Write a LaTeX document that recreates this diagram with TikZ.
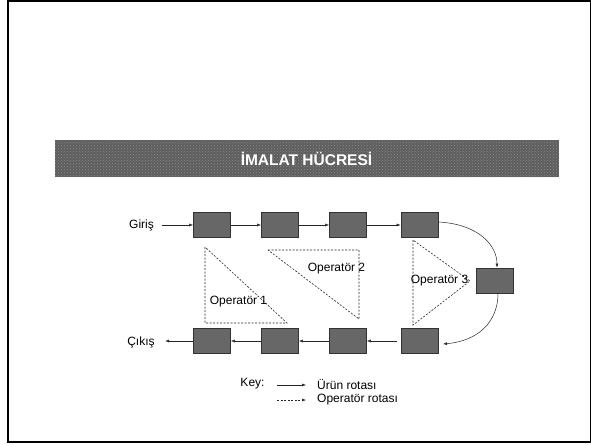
\documentclass[tikz,border=0pt]{standalone}
\usepackage{fontspec}
\setmainfont{Liberation Sans}
\usetikzlibrary{arrows.meta,patterns}
\definecolor{boxfill}{HTML}{676767}
\definecolor{boxline}{HTML}{333333}
\definecolor{barfill}{HTML}{5E5E5E}
\definecolor{bardots}{HTML}{8C8C8C}
\tikzset{
  station/.style={draw=boxline,fill=boxfill,line width=0.8pt,minimum width=37pt,minimum height=25pt,inner sep=0pt},
  lbl/.style={font=\fontsize{12}{14}\selectfont,inner sep=0pt},
  flow/.style={line width=0.5pt,draw=black!85,-{Latex[length=4pt,width=3pt]}},
  oproute/.style={line width=0.6pt,draw=black!85,dash pattern=on 2pt off 1.5pt},
}
\begin{document}
\begin{tikzpicture}[x=1pt,y=-1pt]
\useasboundingbox (0,0) rectangle (591,444);
% frame
\draw[line width=2pt] (8,1) rectangle (591,441.5);
% title bar
\fill[barfill] (55,140) rectangle (559,177);
\fill[pattern=crosshatch dots,pattern color=bardots] (55,140) rectangle (559,177);
\node[font=\fontsize{15.5}{18}\selectfont\bfseries,text=white,inner sep=0pt] (title) at (306.5,159) {İMALAT HÜCRESİ};
% stations
\node[station] (t1) at (212,225) {};
\node[station] (t2) at (280,225) {};
\node[station] (t3) at (348,225) {};
\node[station] (t4) at (419.5,225) {};
\node[station] (r) at (494.5,280.5) {};
\node[station] (b1) at (212,341) {};
\node[station] (b2) at (280,341) {};
\node[station] (b3) at (348,341) {};
\node[station] (b4) at (419.5,341) {};
% labels
\node[lbl] (gi) at (141.5,225) {Giriş};
\node[lbl] (ci) at (141,342) {Çıkış};
% flows
\draw[flow] (gi.east)++(8,0) -- (t1.west);
\draw[flow] (t1) -- (t2);
\draw[flow] (t2) -- (t3);
\draw[flow] (t3) -- (t4);
\draw[flow] (t4.east)++(0,-3) .. controls (478,224) and (497,245) .. (r.north -| 497,0);
\draw[flow] (r.south -| 498,0) .. controls (498,322) and (478,341) .. (443,344);
\draw[flow] (b4.west)++(-4,0) -- (b3.east);
\draw[flow] (b3) -- (b2);
\draw[flow] (b2) -- (b1);
\draw[flow] (b1.west) -- ++(-28,0);
% operator triangles
\draw[oproute] (205,247) -- (205,323) -- (287,323) -- cycle;
\draw[oproute] (268,250) -- (359,250) -- (359,319) -- cycle;
\draw[oproute] (413,240) -- (413,325) -- (470,281) -- cycle;
\node[lbl] (o1) at (238.5,302) {Operatör 1};
\node[lbl] (o2) at (336.5,269) {Operatör 2};
\node[lbl] (o3) at (439.5,281) {Operatör 3};
% key
\node[lbl] (key) at (252.5,384) {Key:};
\coordinate (k1a) at (277,385);
\coordinate (k1b) at (306,385);
\coordinate (k2a) at (277,400);
\coordinate (k2b) at (306,400);
\draw[flow] (k1a) -- (k1b);
\draw[flow,dash pattern=on 2pt off 1.5pt] (k2a) -- (k2b);
\node[lbl,anchor=west] (ur) at (317,385) {Ürün rotası};
\node[lbl,anchor=west] (opr) at (317,400) {Operatör rotası};
\end{tikzpicture}
\end{document}
